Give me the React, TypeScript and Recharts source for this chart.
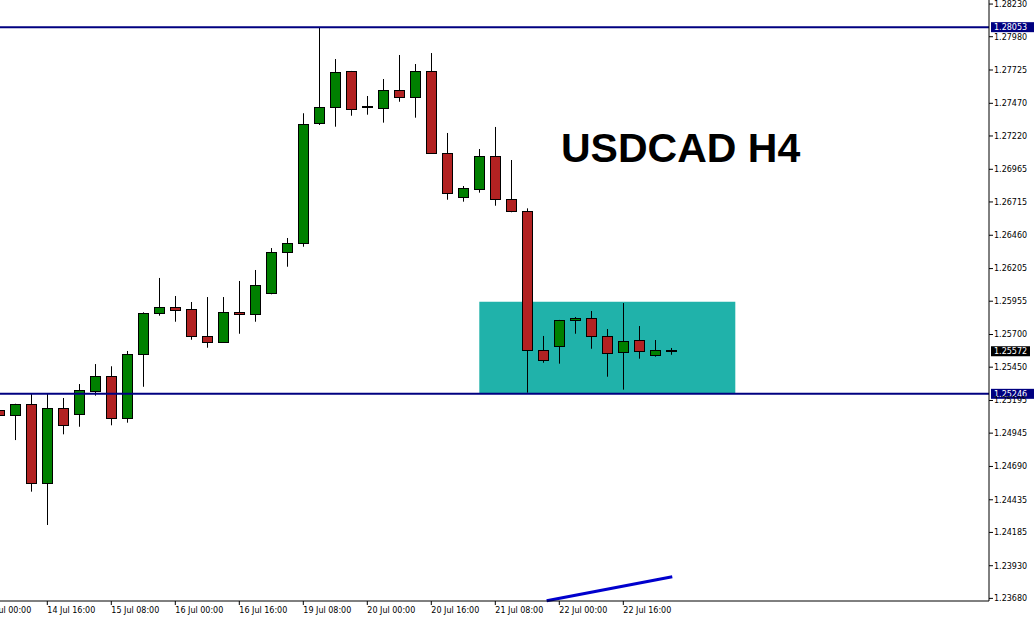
import React from 'react';
import { ComposedChart, Bar, XAxis, YAxis, ReferenceLine, ReferenceArea, Customized } from 'recharts';

const TIMES = [
  '14 Jul 04:00', '14 Jul 08:00', '14 Jul 12:00', '14 Jul 16:00', '14 Jul 20:00',
  '15 Jul 00:00', '15 Jul 04:00', '15 Jul 08:00', '15 Jul 12:00', '15 Jul 16:00', '15 Jul 20:00',
  '16 Jul 00:00', '16 Jul 04:00', '16 Jul 08:00', '16 Jul 12:00', '16 Jul 16:00', '16 Jul 20:00',
  '19 Jul 00:00', '19 Jul 04:00', '19 Jul 08:00', '19 Jul 12:00', '19 Jul 16:00', '19 Jul 20:00',
  '20 Jul 00:00', '20 Jul 04:00', '20 Jul 08:00', '20 Jul 12:00', '20 Jul 16:00', '20 Jul 20:00',
  '21 Jul 00:00', '21 Jul 04:00', '21 Jul 08:00', '21 Jul 12:00', '21 Jul 16:00', '21 Jul 20:00',
  '22 Jul 00:00', '22 Jul 04:00', '22 Jul 08:00', '22 Jul 12:00', '22 Jul 16:00', '22 Jul 20:00',
  '23 Jul 00:00', '23 Jul 04:00',
];

const OPEN = [
  1.25126, 1.25082, 1.25166, 1.24561, 1.25135, 1.25089, 1.25265, 1.25380, 1.25059, 1.25549,
  1.25862, 1.25908, 1.25893, 1.25686, 1.25640, 1.25872, 1.25855, 1.26016, 1.26329, 1.26398,
  1.27317, 1.27444, 1.27715, 1.27444, 1.27436, 1.27570, 1.27516, 1.27715, 1.27087, 1.26751,
  1.26812, 1.27064, 1.26735, 1.26643, 1.25579, 1.25610, 1.25809, 1.25824, 1.25686, 1.25564,
  1.25656, 1.25541, 1.25572,
];
const HIGH = [
  1.25153, 1.25170, 1.25245, 1.25245, 1.25214, 1.25321, 1.25474, 1.25457, 1.25574, 1.25870,
  1.26133, 1.25995, 1.25949, 1.25987, 1.25987, 1.26110, 1.26194, 1.26362, 1.26439, 1.27394,
  1.28052, 1.27809, 1.27718, 1.27526, 1.27656, 1.27840, 1.27771, 1.27855, 1.27243, 1.26837,
  1.27120, 1.27289, 1.27036, 1.26666, 1.25689, 1.25812, 1.25834, 1.25880, 1.25742, 1.25941,
  1.25765, 1.25658, 1.25597,
];
const LOW = [
  1.25061, 1.24892, 1.24497, 1.24242, 1.24936, 1.24994, 1.25232, 1.25005, 1.25025, 1.25300,
  1.25844, 1.25798, 1.25660, 1.25599, 1.25637, 1.25706, 1.25798, 1.26008, 1.26219, 1.26372,
  1.27304, 1.27291, 1.27375, 1.27383, 1.27322, 1.27482, 1.27360, 1.27084, 1.26732, 1.26717,
  1.26786, 1.26686, 1.26636, 1.25255, 1.25484, 1.25477, 1.25706, 1.25591, 1.25377, 1.25278,
  1.25515, 1.25530, 1.25545,
];
const CLOSE = [
  1.25084, 1.25166, 1.24561, 1.25135, 1.25005, 1.25273, 1.25380, 1.25059, 1.25549, 1.25862,
  1.25908, 1.25890, 1.25686, 1.25640, 1.25870, 1.25855, 1.26077, 1.26329, 1.26398, 1.27309,
  1.27440, 1.27707, 1.27424, 1.27444, 1.27570, 1.27516, 1.27715, 1.27087, 1.26781, 1.26822,
  1.27064, 1.26735, 1.26643, 1.25579, 1.25503, 1.25809, 1.25824, 1.25686, 1.25556, 1.25648,
  1.25571, 1.25579, 1.25572,
];

const Y_TICKS = [
  1.2823, 1.2798, 1.27725, 1.2747, 1.2722, 1.26965, 1.26715, 1.2646, 1.26205, 1.25955,
  1.257, 1.2545, 1.25195, 1.24945, 1.2469, 1.24435, 1.24185, 1.2393, 1.2368,
];
const X_TICKS = [-1, 3, 7, 11, 15, 19, 23, 27, 31, 35, 39];
const X_TICK_LABELS = [
  '14 Jul 00:00', '14 Jul 16:00', '15 Jul 08:00', '16 Jul 00:00', '16 Jul 16:00',
  '19 Jul 08:00', '20 Jul 00:00', '20 Jul 16:00', '21 Jul 08:00', '22 Jul 00:00', '22 Jul 16:00',
];

const LEVEL_HIGH = 1.28053;
const LEVEL_LOW = 1.25246;
const CURRENT_PRICE = 1.25572;
const ZONE_X = [30, 46];
const ZONE_Y = [1.25246, 1.2595];
const TREND_X = [34.21, 42.06];
const TREND_Y = [1.23662, 1.23846];
const TITLE = 'USDCAD H4';

const X_DOMAIN = [0.04375, 61.856];
const Y_DOMAIN = [1.2366, 1.28261];

const data = TIMES.map((t, i) => ({ i, t, o: OPEN[i], h: HIGH[i], l: LOW[i], c: CLOSE[i] }));

const GREEN = '#008000';
const RED = '#B22222';
const NAVY = '#000080';
const FONT = 'DejaVu Sans';

const Candle = (props: any) => {
  const { x, y, width, height, payload } = props;
  if (x == null || y == null || !payload) return null;
  const top = Math.min(y, y + height);
  const span = Math.abs(height);
  const range = payload.h - payload.l;
  const ppu = range > 0 ? span / range : 0;
  const py = (p: number) => top + (payload.h - p) * ppu;
  const cx = Math.round(x + width / 2) + 0.5;
  const yh = py(payload.h);
  const yl = py(payload.l);
  const up = payload.c >= payload.o;
  const bt = py(Math.max(payload.o, payload.c));
  const bb = py(Math.min(payload.o, payload.c));
  const doji = Math.abs(payload.o - payload.c) < 0.00002;
  const rt = Math.round(bt) + 0.5;
  const rb = Math.max(Math.round(bb) + 0.5, rt + 1);
  return (
    <g>
      <line x1={cx} x2={cx} y1={yh} y2={yl} stroke="#000" strokeWidth={1} />
      {doji ? (
        <line x1={cx - 5.5} x2={cx + 5.5} y1={Math.round(bt)} y2={Math.round(bt)} stroke="#000" strokeWidth={2} />
      ) : (
        <rect x={cx - 5} y={rt} width={10} height={rb - rt} fill={up ? GREEN : RED} stroke="#000" strokeWidth={1} />
      )}
    </g>
  );
};

const PriceTag = (props: any) => {
  const { viewBox, text, bg, w } = props;
  if (!viewBox) return null;
  const xx = viewBox.x + viewBox.width;
  const yy = viewBox.y;
  return (
    <g>
      <rect x={xx + 2} y={yy - 5} width={w} height={10} fill={bg} />
      <text x={xx + 5} y={yy} dy="0.36em" fill="#fff" fontSize={8} fontFamily={FONT}>{text}</text>
    </g>
  );
};

const XTick = (props: any) => {
  const { x, y, payload } = props;
  const idx = X_TICKS.indexOf(payload.value);
  return (
    <text x={x} y={y + 6} fill="#000" fontSize={8} fontFamily={FONT} textAnchor="start">
      {idx >= 0 ? X_TICK_LABELS[idx] : ''}
    </text>
  );
};

const Title = () => (
  <text x={561} y={162} fontSize={41} fontWeight="bold" fontFamily="Liberation Sans" fill="#000">{TITLE}</text>
);

export default function App() {
  return (
    <div style={{ position: 'absolute', left: 0, top: 0, width: 1034, height: 621, background: '#fff' }}>
      <ComposedChart width={1034} height={621} data={data} margin={{ top: 0, right: 0, bottom: 0, left: 0 }}>
        <XAxis
          type="number"
          dataKey="i"
          domain={X_DOMAIN}
          allowDataOverflow
          ticks={X_TICKS}
          interval={0}
          tick={<XTick />}
          tickSize={4}
          height={20}
          axisLine={{ stroke: '#000' }}
          tickLine={{ stroke: '#000' }}
        />
        <YAxis
          orientation="right"
          type="number"
          domain={Y_DOMAIN}
          allowDataOverflow
          ticks={Y_TICKS}
          interval={0}
          width={45}
          tickSize={4}
          tickMargin={1}
          tickFormatter={(v: number) => v.toFixed(5)}
          tick={{ fontSize: 8, fontFamily: FONT, fill: '#000' }}
          axisLine={{ stroke: '#000' }}
          tickLine={{ stroke: '#000' }}
        />
        <ReferenceArea
          x1={ZONE_X[0]}
          x2={ZONE_X[1]}
          y1={ZONE_Y[0]}
          y2={ZONE_Y[1]}
          fill="#20B2AA"
          fillOpacity={1}
          stroke="none"
        />
        <Bar dataKey={(d: any) => [d.l, d.h]} barSize={10} shape={<Candle />} isAnimationActive={false} />
        <ReferenceLine
          y={LEVEL_HIGH}
          stroke={NAVY}
          strokeWidth={2}
          label={<PriceTag text={LEVEL_HIGH.toFixed(5)} bg={NAVY} w={43} />}
        />
        <ReferenceLine
          y={LEVEL_LOW}
          stroke={NAVY}
          strokeWidth={2}
          label={<PriceTag text={LEVEL_LOW.toFixed(5)} bg={NAVY} w={43} />}
        />
        <ReferenceLine
          y={CURRENT_PRICE}
          stroke="none"
          strokeOpacity={0}
          label={<PriceTag text={CURRENT_PRICE.toFixed(5)} bg="#000" w={39} />}
        />
        <ReferenceLine
          segment={[{ x: TREND_X[0], y: TREND_Y[0] }, { x: TREND_X[1], y: TREND_Y[1] }]}
          stroke="#0000CD"
          strokeWidth={3}
        />
        <Customized component={Title} />
      </ComposedChart>
    </div>
  );
}
